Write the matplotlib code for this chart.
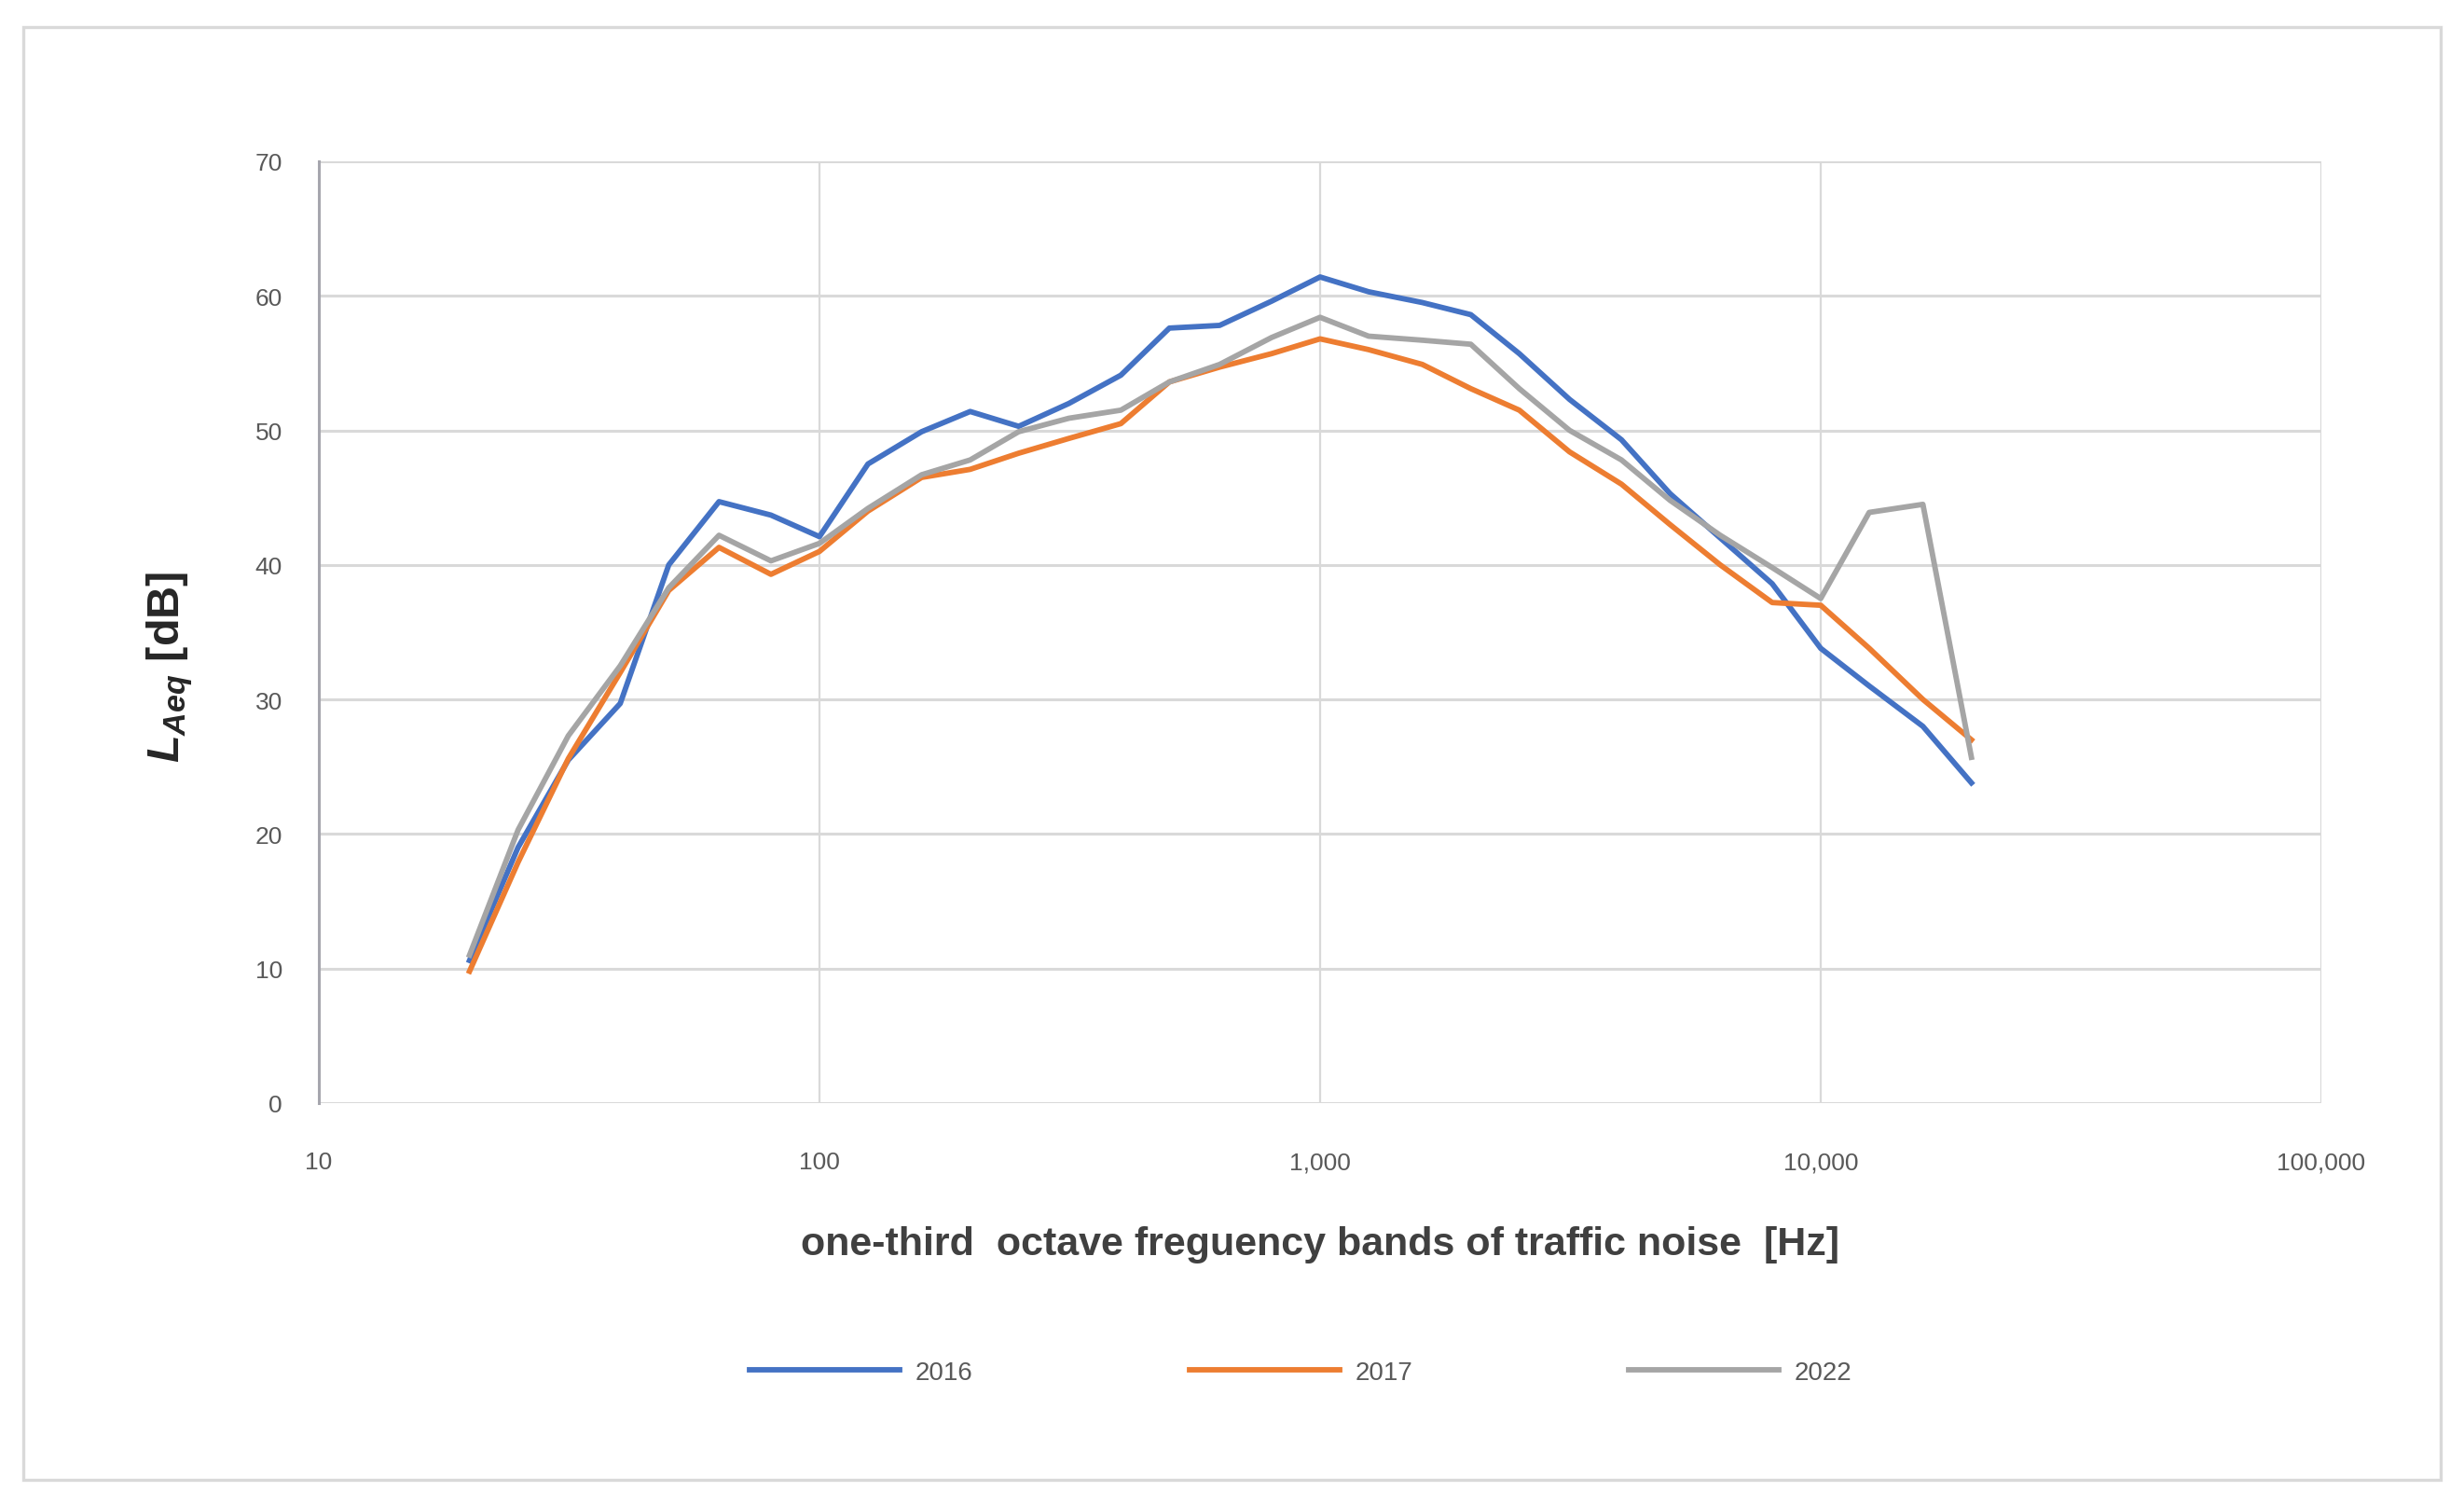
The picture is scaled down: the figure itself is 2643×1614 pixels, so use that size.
import matplotlib
matplotlib.use("Agg")
import matplotlib.pyplot as plt
from matplotlib.patches import Rectangle

# one-third octave band centre frequencies [Hz]
freqs = [20, 25, 31.5, 40, 50, 63, 80, 100, 125, 160, 200, 250, 315, 400, 500,
         630, 800, 1000, 1250, 1600, 2000, 2500, 3150, 4000, 5000, 6300, 8000,
         10000, 12500, 16000, 20000]

laeq_2016 = [10.6, 19.0, 25.5, 29.7, 40.0, 44.7, 43.7, 42.1, 47.5, 49.9, 51.4,
             50.3, 52.0, 54.1, 57.6, 57.8, 59.6, 61.4, 60.3, 59.5, 58.6, 55.7,
             52.3, 49.3, 45.3, 42.0, 38.6, 33.8, 31.0, 28.0, 23.8]
laeq_2017 = [9.8, 17.9, 25.6, 32.0, 38.1, 41.3, 39.3, 41.0, 44.0, 46.5, 47.1,
             48.3, 49.4, 50.5, 53.6, 54.7, 55.7, 56.8, 56.0, 54.9, 53.1, 51.5,
             48.4, 46.0, 43.0, 40.0, 37.2, 37.0, 33.8, 30.0, 27.0]
laeq_2022 = [11.0, 20.3, 27.3, 32.5, 38.3, 42.2, 40.3, 41.6, 44.2, 46.7, 47.8,
             49.9, 50.9, 51.5, 53.6, 54.9, 56.9, 58.4, 57.0, 56.7, 56.4, 53.1,
             50.0, 47.8, 44.8, 42.2, 39.8, 37.5, 43.9, 44.5, 25.7]

years = ["2016", "2017", "2022"]
colors = ["#4472C4", "#ED7D31", "#A5A5A5"]

x_ticks = [10, 100, 1000, 10000, 100000]
x_labels = ["10", "100", "1,000", "10,000", "100,000"]
y_ticks = [0, 10, 20, 30, 40, 50, 60, 70]

plt.rcParams['font.family'] = ['Liberation Sans', 'DejaVu Sans']
plt.rcParams['mathtext.fontset'] = 'custom'
plt.rcParams['mathtext.it'] = 'Liberation Sans:italic:bold'
plt.rcParams['mathtext.rm'] = 'Liberation Sans:bold'

fig = plt.figure(figsize=(13.215, 8.075), dpi=200)
ax = fig.add_axes([0.1294, 0.2669, 0.8127, 0.6254])

for vals, yr, c in zip([laeq_2016, laeq_2017, laeq_2022], years, colors):
    ax.plot(freqs, vals, color=c, lw=2.1, label=yr)

ax.set_xscale('log')
ax.set_xlim(10, 100000)
ax.set_ylim(0, 70)
ax.set_xticks(x_ticks)
ax.set_xticklabels(x_labels)
ax.minorticks_off()
ax.set_yticks(y_ticks)

ax.grid(axis='y', color='#d9d9d9', lw=1.1)
ax.grid(axis='x', color='#d9d9d9', lw=0.8)
ax.set_axisbelow(True)
for s in ['top', 'right', 'bottom']:
    ax.spines[s].set_visible(False)
ax.spines['left'].set_color('#a6a6ae')
ax.spines['left'].set_linewidth(1.1)

ax.tick_params(axis='both', length=0, colors='#595959', labelsize=9.5)
ax.tick_params(axis='x', pad=18.5)
ax.tick_params(axis='y', pad=14)

ax.set_xlabel("one-third  octave freguency bands of traffic noise  [Hz]",
              fontsize=15.5, fontweight='bold', color='#404040', labelpad=20)

fig.text(0.069, 0.557, "$L_{Aeq}$ [dB]", rotation=90, ha='center', va='center',
         fontsize=17.5, fontweight='bold', color='#262626')

fig.legend(loc='center', bbox_to_anchor=(0.528, 0.088), ncol=3, frameon=False,
           fontsize=10, handlelength=5.8, handletextpad=0.6, columnspacing=8.35,
           labelcolor='#595959')

fig.patches.append(Rectangle((0.0095, 0.0167), 0.981, 0.9647, transform=fig.transFigure,
                             fill=False, edgecolor='#d9d9d9', lw=1.2))

fig.savefig("out.png", dpi=200, facecolor='white')
